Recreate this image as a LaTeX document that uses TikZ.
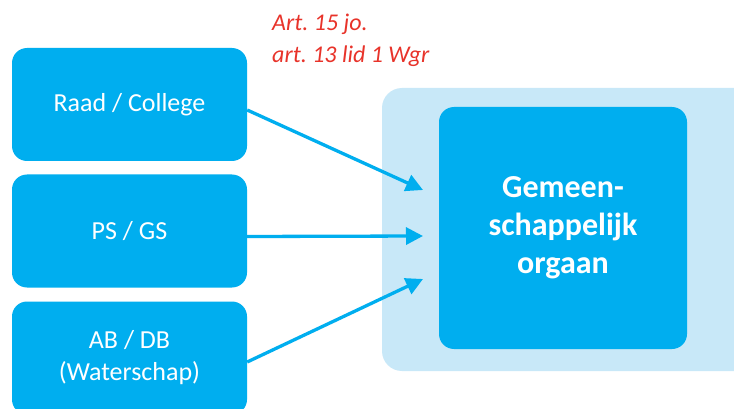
\documentclass[tikz,border=0pt]{standalone}
\usepackage{fontspec}
\setmainfont{Carlito}
\usepackage{tikz}
\usetikzlibrary{arrows.meta}
\definecolor{wgrblue}{RGB}{0,174,239}
\definecolor{wgrlight}{RGB}{200,232,248}
\definecolor{wgrred}{RGB}{232,51,42}
\frenchspacing
\begin{document}
\begin{tikzpicture}[x=1pt,y=-1pt,
  orgbox/.style={fill=wgrblue,rounded corners=15pt,minimum width=235pt,minimum height=113pt,
    text=white,align=center,font=\fontsize{26}{32}\selectfont,inner sep=0pt},
  wgrarrow/.style={wgrblue,line width=3.3pt,-{Triangle[length=17pt,width=17pt]}}]
\clip (0,0) rectangle (734,409);
\node[fill=white,minimum width=734pt,minimum height=409pt,anchor=north west] (bg) at (0,0) {};
\node[fill=wgrlight,rounded corners=20pt,minimum width=378pt,minimum height=283pt,inner sep=0pt] (gr) at (571,229.5) {};
\node[fill=wgrblue,rounded corners=15pt,minimum width=248pt,minimum height=242pt,text=white,align=center,
  font=\fontsize{32}{38}\selectfont\bfseries,inner sep=0pt] (go) at (563,228) {Gemeen-\\schappelijk\\orgaan};
\node[orgbox] (raad) at (129.5,104.5) {Raad / College};
\node[orgbox] (ps) at (129.5,231) {PS / GS};
\node[orgbox] (ab) at (129.5,358) {AB / DB\\(Waterschap)};
\coordinate (in1) at (423,190);
\coordinate (in2) at (423,236);
\coordinate (in3) at (423,279);
\draw[wgrarrow] ([yshift=-5.5pt]raad.east) -- (in1);
\draw[wgrarrow] ([yshift=-5.5pt]ps.east) -- (in2);
\draw[wgrarrow] ([yshift=-4pt]ab.east) -- (in3);
\node[anchor=north west,inner sep=0pt,align=left,text=wgrred,font=\fontsize{24}{32}\selectfont\itshape] (art) at (272,14) {Art. 15 jo.\\art. 13 lid 1 Wgr};
\end{tikzpicture}
\end{document}
